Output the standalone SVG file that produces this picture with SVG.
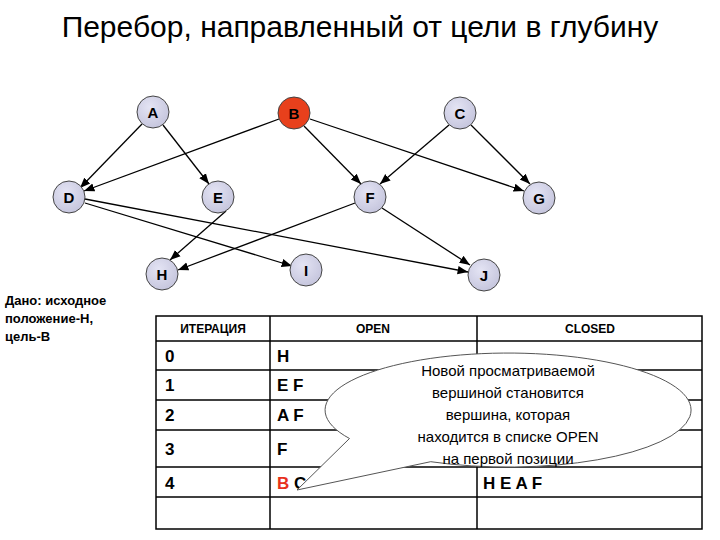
<svg xmlns="http://www.w3.org/2000/svg" width="720" height="540" viewBox="0 0 720 540">
<defs>
<marker id="ar" viewBox="0 0 10 10" refX="10" refY="5" markerWidth="8" markerHeight="8" orient="auto"><path d="M0,1 L10,5 L0,9 z" fill="#000"/></marker>
<radialGradient id="ng" cx="40%" cy="35%" r="70%"><stop offset="0" stop-color="#e4e4f4"/><stop offset="1" stop-color="#c4c4dc"/></radialGradient>
</defs>
<style>
.n{fill:url(#ng);stroke:#444;stroke-width:1}
.nt{font-family:"Liberation Sans",Arial,sans-serif;font-weight:bold;font-size:15px;text-anchor:middle}
.e{stroke:#000;stroke-width:1.3;fill:none;marker-end:url(#ar)}
.t{font-family:"Liberation Sans",Arial,sans-serif;font-weight:bold}
.g{stroke:#000;stroke-width:1.5;fill:none}
</style>
<rect width="720" height="540" fill="#fff"/>
<text x="360" y="37" font-family="Liberation Sans,Arial,sans-serif" font-size="30" text-anchor="middle">Перебор, направленный от цели в глубину</text>
<g id="connectors">
<line class="e" x1="142" y1="124" x2="80" y2="188"/>
<line class="e" x1="163" y1="125" x2="209" y2="184"/>
<line class="e" x1="279" y1="119" x2="84" y2="191"/>
<line class="e" x1="304" y1="126" x2="361" y2="184"/>
<line class="e" x1="310" y1="119" x2="524" y2="191"/>
<line class="e" x1="449" y1="125" x2="380" y2="184"/>
<line class="e" x1="471" y1="125" x2="530" y2="184"/>
<line class="e" x1="85" y1="203" x2="292" y2="266"/>
<line class="e" x1="85" y1="199" x2="468" y2="272"/>
<line class="e" x1="226" y1="211" x2="170" y2="260"/>
<line class="e" x1="355" y1="203" x2="178" y2="270"/>
<line class="e" x1="382" y1="208" x2="470" y2="265"/>
</g>
<g id="A"><circle class="n" cx="153" cy="112" r="16"/><text class="nt" x="153" y="118">A</text></g>
<g id="B"><circle cx="294" cy="113" r="16" fill="#e8401c" stroke="#444"/><text class="nt" x="294" y="119">B</text></g>
<g id="C"><circle class="n" cx="460" cy="113" r="16"/><text class="nt" x="460" y="119">C</text></g>
<g id="D"><circle class="n" cx="69" cy="197" r="16"/><text class="nt" x="69" y="203">D</text></g>
<g id="E"><circle class="n" cx="218" cy="197" r="16"/><text class="nt" x="218" y="203">E</text></g>
<g id="F"><circle class="n" cx="370" cy="197" r="16"/><text class="nt" x="370" y="203">F</text></g>
<g id="G"><circle class="n" cx="539" cy="198" r="16"/><text class="nt" x="539" y="204">G</text></g>
<g id="H"><circle class="n" cx="162" cy="274" r="16"/><text class="nt" x="162" y="280">H</text></g>
<g id="I"><circle class="n" cx="306" cy="270" r="16"/><text class="nt" x="306" y="276">I</text></g>
<g id="J"><circle class="n" cx="484" cy="275" r="16"/><text class="nt" x="484" y="281">J</text></g>
<g class="t" font-size="13"><text x="5" y="305">Дано: исходное</text><text x="5" y="323">положение-Н,</text><text x="5" y="341">цель-В</text></g>
<g id="table">
<rect class="g" x="156" y="316" width="546" height="213"/>
<line class="g" x1="270" y1="316" x2="270" y2="529"/>
<line class="g" x1="477" y1="316" x2="477" y2="529"/>
<line class="g" x1="156" y1="341" x2="702" y2="341"/>
<line class="g" x1="156" y1="370" x2="702" y2="370"/>
<line class="g" x1="156" y1="400" x2="702" y2="400"/>
<line class="g" x1="156" y1="430" x2="702" y2="430"/>
<line class="g" x1="156" y1="467" x2="702" y2="467"/>
<line class="g" x1="156" y1="497" x2="702" y2="497"/>
<g class="t" font-size="12" text-anchor="middle"><text x="213" y="333">ИТЕРАЦИЯ</text><text x="373" y="333">OPEN</text><text x="590" y="333">CLOSED</text></g>
<g class="t" font-size="17"><text x="165" y="362">0</text><text x="165" y="391">1</text><text x="165" y="421">2</text><text x="165" y="455">3</text><text x="165" y="489">4</text>
<text x="277" y="362">H</text><text x="277" y="391">E F</text><text x="277" y="421">A F</text><text x="277" y="455">F</text>
<text x="277" y="489"><tspan fill="#e8301c">B</tspan> C</text><text x="483" y="489">H E A F</text></g>
</g>
<g id="bubble">
<path d="M430.7,461.7 A183,57 0 1 0 349.5,438.5 L297,490 Z" fill="#fff" stroke="#555" stroke-width="1"/>
<g font-family="Liberation Sans,Arial,sans-serif" font-size="15" text-anchor="middle"><text x="508" y="376">Новой просматриваемой</text><text x="508" y="398">вершиной становится</text><text x="508" y="420">вершина, которая</text><text x="508" y="442">находится в списке OPEN</text><text x="508" y="464">на первой позиции</text></g>
</g>
</svg>
